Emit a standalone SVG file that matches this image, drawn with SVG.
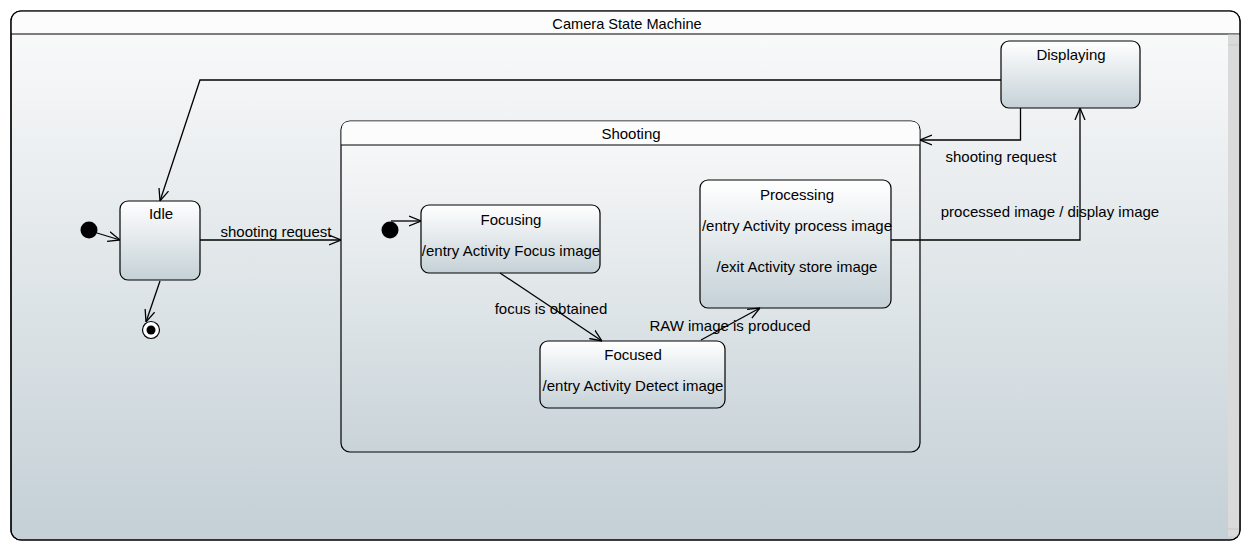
<svg xmlns="http://www.w3.org/2000/svg" width="1251" height="551" viewBox="0 0 1251 551">
<style>
  text { font-family: "Liberation Sans", Arial, sans-serif; font-size: 15px; fill: #000; }
  .c { text-anchor: middle; }
  .t { font-size: 14.6px; }
  .frame { stroke: #000; stroke-width: 1.2; }
  .state { fill: url(#nodeGrad); stroke: #000; stroke-width: 1.2; }
  .conn { fill: none; stroke: #000; stroke-width: 1.3; marker-end: url(#arr); }
</style>
<defs>
  <linearGradient id="bgGrad" x1="0" y1="0" x2="0" y2="1">
    <stop offset="0" stop-color="#fbfbfb"/>
    <stop offset="1" stop-color="#c4d0d6"/>
  </linearGradient>
  <linearGradient id="shootGrad" gradientUnits="userSpaceOnUse" x1="0" y1="121" x2="0" y2="452">
    <stop offset="0" stop-color="#fafafa"/>
    <stop offset="1" stop-color="#c9d4d9"/>
  </linearGradient>
  <linearGradient id="nodeGrad" x1="0" y1="0" x2="0" y2="1">
    <stop offset="0" stop-color="#ffffff"/>
    <stop offset="1" stop-color="#c5d1d7"/>
  </linearGradient>
  <marker id="arr" viewBox="0 0 12 12" refX="12" refY="6" markerWidth="12" markerHeight="12" markerUnits="userSpaceOnUse" orient="auto">
    <path d="M0,1 L12,6 L0,11" fill="none" stroke="#000" stroke-width="1.3"/>
  </marker>
</defs>
<rect x="0" y="0" width="1251" height="551" fill="#ffffff"/>

<g id="camera-state-machine">
  <rect x="11" y="11" width="1229" height="529" rx="10" ry="10" fill="url(#bgGrad)" class="frame"/>
  <path d="M11.6,34 L11.6,21 Q11.6,11.6 21,11.6 L1230,11.6 Q1239.4,11.6 1239.4,21 L1239.4,34 Z" fill="#fcfcfc"/>
  <line x1="11" y1="34" x2="1240" y2="34" stroke="#000" stroke-width="1.2"/>
  <rect x="1228" y="34.6" width="11.4" height="502" fill="#dadada"/>
  <line x1="1228" y1="45" x2="1239" y2="45" stroke="#c8c8c8"/>
  <line x1="1228" y1="529" x2="1239" y2="529" stroke="#c8c8c8"/>
  <rect x="11" y="11" width="1229" height="529" rx="10" ry="10" fill="none" class="frame"/>
  <text class="c t" x="627" y="29">Camera State Machine</text>
</g>

<g id="shooting">
  <rect x="341" y="121" width="579" height="331" rx="9" ry="9" fill="url(#shootGrad)" class="frame"/>
  <path d="M341.6,145 L341.6,130 Q341.6,121.6 350,121.6 L911,121.6 Q919.4,121.6 919.4,130 L919.4,145 Z" fill="#fcfcfc"/>
  <line x1="341" y1="145" x2="920" y2="145" stroke="#000" stroke-width="1.2"/>
  <text class="c" x="631" y="139">Shooting</text>
</g>

<g id="initial">
  <circle cx="89" cy="230" r="8.5" fill="#000"/>
</g>

<g id="final">
  <circle cx="151" cy="330" r="8.5" fill="#fff" stroke="#000" stroke-width="1.2"/>
  <circle cx="151" cy="330" r="4.5" fill="#000"/>
</g>

<g id="idle">
  <rect x="120" y="201" width="80" height="79" rx="8" ry="8" class="state"/>
  <text class="c" x="161" y="219">Idle</text>
</g>

<g id="displaying">
  <rect x="1001" y="41" width="139" height="67" rx="8" ry="8" class="state"/>
  <text class="c" x="1071" y="60">Displaying</text>
</g>

<g id="inner-initial">
  <circle cx="390" cy="230" r="8.5" fill="#000"/>
</g>

<g id="focusing">
  <rect x="421" y="205" width="179" height="68" rx="8" ry="8" class="state"/>
  <text class="c" x="511" y="225">Focusing</text>
  <text class="c" x="511" y="256">/entry Activity Focus image</text>
</g>

<g id="focused">
  <rect x="540" y="341" width="185" height="67" rx="8" ry="8" class="state"/>
  <text class="c" x="633" y="360">Focused</text>
  <text class="c" x="633" y="391">/entry Activity Detect image</text>
</g>

<g id="processing">
  <rect x="700" y="180" width="191" height="128" rx="8" ry="8" class="state"/>
  <text class="c" x="797" y="200">Processing</text>
  <text class="c" x="797" y="231">/entry Activity process image</text>
  <text class="c" x="797" y="272">/exit Activity store image</text>
</g>

<g id="connectors">
  <path class="conn" d="M97,233 L120,240"/>
  <path class="conn" d="M160,281 L146,322"/>
  <path class="conn" d="M1001,80 L200,80 L160,201"/>
  <path class="conn" d="M200,240 L341,240"/>
  <path class="conn" d="M1020.5,108 L1020.5,140 L920,140"/>
  <path class="conn" d="M891,240 L1080,240 L1080,108"/>
  <path class="conn" d="M391,221 L421,221"/>
  <path class="conn" d="M500,273 L602,341"/>
  <path class="conn" d="M701,340 L760,308"/>
  <text class="c" x="276" y="237">shooting request</text>
  <text class="c" x="1001" y="162">shooting request</text>
  <text class="c" x="1050" y="217">processed image / display image</text>
  <text class="c" x="551" y="314">focus is obtained</text>
  <text class="c" x="730" y="331">RAW image is produced</text>
</g>
</svg>
